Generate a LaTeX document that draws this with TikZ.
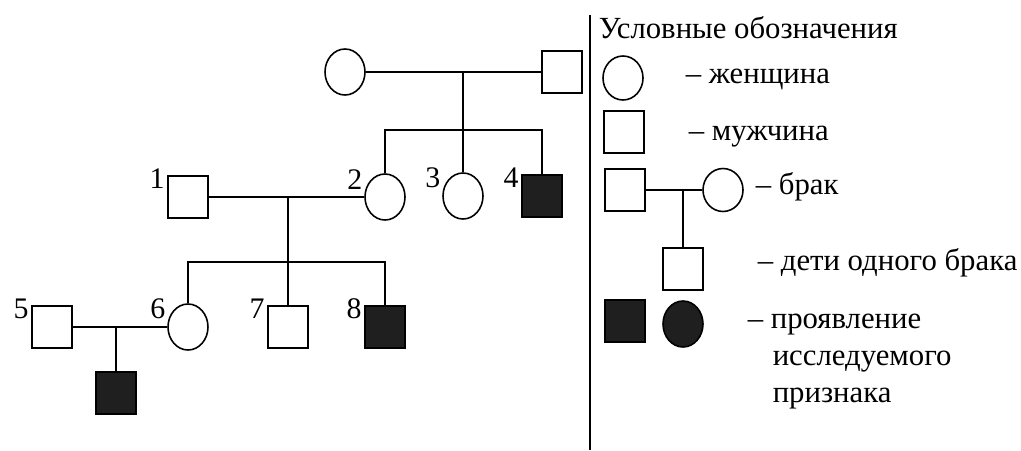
\documentclass[tikz,border=0pt]{standalone}
\usepackage{fontspec}
\setmainfont{Liberation Serif}
\usetikzlibrary{shapes.geometric}

\begin{document}
\begin{tikzpicture}
        [x=0.02cm, y=-0.02cm, line width=0.9pt,
         female/.style={ellipse, draw, minimum width=0.8cm, minimum height=0.92cm, inner sep=0pt},
         male/.style={rectangle, draw, minimum width=0.8cm, minimum height=0.84cm, inner sep=0pt},
         ill/.style={fill=black!88},
         num/.style={font=\fontsize{17}{17}\selectfont, inner sep=1pt, label distance=0pt},
         txt/.style={font=\fontsize{17.5}{21}\selectfont, anchor=base west, inner sep=0pt}]
        \useasboundingbox (0,0) rectangle (1021,450);

        % pedigree
        \node[female] (f0) at (345,72) {};
        \node[male] (m0) at (562,72) {};
        \coordinate (u0) at (463,72);
        \coordinate (s0) at (463,130);

        \node[male, label={[num]165:1}] (p1) at (188,197) {};
        \node[female, label={[num]165:2}] (p2) at (385,197) {};
        \node[female, label={[num]165:3}] (p3) at (463,196) {};
        \node[male, ill, label={[num]165:4}] (p4) at (542,196) {};
        \coordinate (u1) at (288,197);
        \coordinate (s1) at (288,262);

        \node[male, label={[num]165:5}] (p5) at (52,327) {};
        \node[female, label={[num]165:6}] (p6) at (188,327) {};
        \node[male, label={[num]165:7}] (p7) at (288,327) {};
        \node[male, ill, label={[num]165:8}] (p8) at (385,327) {};
        \coordinate (u2) at (116,327);
        \node[male, ill] (p9) at (116,393) {};

        \draw (f0) -- (m0);
        \draw (u0) -- (s0);
        \draw (p2.north) |- (s0) -| (p4.north);
        \draw (s0) -- (p3);
        \draw (p1) -- (p2);
        \draw (u1) -- (s1);
        \draw (p6.north) |- (s1) -| (p8.north);
        \draw (s1) -- (p7);
        \draw (p5) -- (p6);
        \draw (u2) -- (p9);

        % legend
        \coordinate (d0) at (590,15);
        \coordinate (d1) at (590,450);
        \draw (d0) -- (d1);
        \node[txt] (title) at (598,38) {Условные обозначения};

        \node[female, minimum height=0.88cm] (lf) at (623,78) {};
        \node[txt] (tf) at (685,83) {– женщина};
        \node[male] (lm) at (624,132) {};
        \node[txt] (tm) at (688,140) {– мужчина};
        \node[male] (lbm) at (625,190) {};
        \node[female, minimum height=0.86cm] (lbf) at (723,190) {};
        \coordinate (lu) at (683,190);
        \node[txt] (tb) at (755,194) {– брак};
        \node[male] (lc) at (683,269) {};
        \node[txt] (tc) at (757,270) {– дети одного брака};
        \node[male, ill] (lim) at (625,321) {};
        \node[female, ill] (lif) at (683,324) {};
        \node[txt] (ti1) at (747,328) {– проявление};
        \node[txt] (ti2) at (772,365) {исследуемого};
        \node[txt] (ti3) at (772,402) {признака};

        \draw (lbm) -- (lbf);
        \draw (lu) -- (lc);
\end{tikzpicture}
\end{document}
